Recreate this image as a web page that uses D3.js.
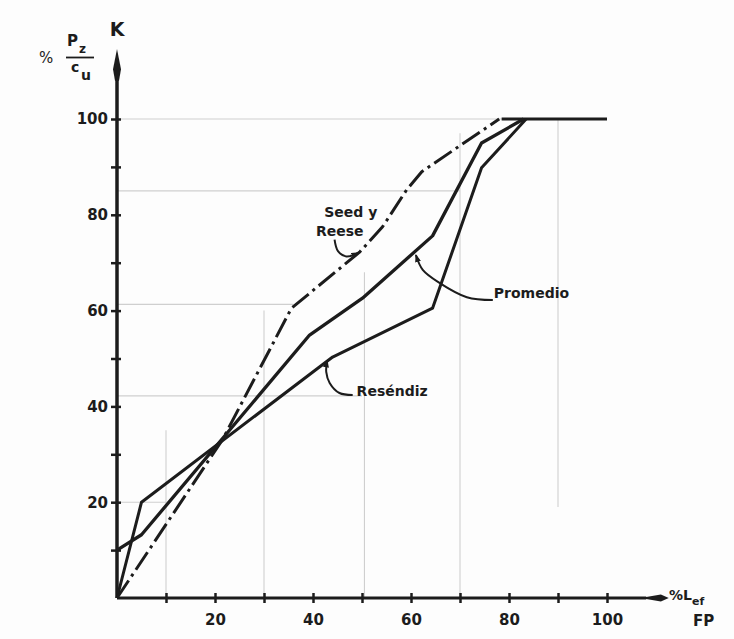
<!DOCTYPE html>
<html><head><meta charset="utf-8">
<script src="https://cdn.jsdelivr.net/npm/d3@7"></script>
<style>body{margin:0;background:#fdfdfd}svg{display:block}</style>
</head><body>
<svg id="c" width="734" height="639"></svg>
<script>
// ---------- data ----------
const xTickValues = [10,20,30,40,50,60,70,80,90,100];
const xLabelValues = [20,40,60,80,100];
const yTickValues = [10,20,30,40,50,60,70,80,90,100];
const yLabelValues = [20,40,60,80,100];

const seedX = [0, 21.5, 35.6, 49.5, 54.2, 59.1, 62.2, 78];
const seedY = [0, 33, 60.5, 72.2, 77.5, 85.2, 89, 100];

const resendizX = [0, 5, 44, 64.4, 74.4, 83.5];
const resendizY = [0, 20, 50.3, 60.5, 89.8, 100];

const promedioX = [0, 5, 39.3, 50.1, 64.4, 74.4, 83];
const promedioY = [10, 13.2, 54.9, 62.6, 75.6, 95, 100];

const plateauX = [78.5, 100];
const plateauY = [100, 100];

// leader lines (data units)
const promLeaderX = [76.7, 71.4, 65.8, 62.4, 61.0];
const promLeaderY = [62.2, 62.8, 65.8, 68.5, 71.6];
const resLeaderX = [48.1, 45.4, 43.4, 42.7, 42.9];
const resLeaderY = [42.4, 42.8, 44.9, 47.2, 49.6];
const seedLeaderX = [44.4, 45.1, 46.8, 49.3];
const seedLeaderY = [74.8, 72.4, 71.3, 72.1];

// faint print-through grid lines (data units): [value, from, to]
const faintH = [[100,0,100],[85,0,70],[61.3,0,36],[42.2,0,50],[20,0,10]];
const faintV = [[10,0,35],[30,0,60],[50.5,0,68],[70,0,97],[90,19,100]];

// ---------- drawing ----------
const svg = d3.select("#c");
const x = d3.scaleLinear().domain([0,100]).range([117,607]);
const y = d3.scaleLinear().domain([0,100]).range([598,119]);
const ink = "#1c1c1c";

const defs = svg.append("defs");
defs.append("marker").attr("id","ah").attr("viewBox","0 0 8 6")
  .attr("refX",7).attr("refY",3).attr("markerWidth",8).attr("markerHeight",6)
  .attr("markerUnits","userSpaceOnUse").attr("orient","auto")
  .append("path").attr("d","M0,0L8,3L0,6Z").attr("fill",ink);

// faint lines
const fg = svg.append("g").attr("stroke","#cfcfcf").attr("stroke-width",1.1);
fg.selectAll("line.h").data(faintH).join("line").attr("class","h")
  .attr("x1",d=>x(d[1])).attr("x2",d=>x(d[2])).attr("y1",d=>y(d[0])).attr("y2",d=>y(d[0]));
fg.selectAll("line.v").data(faintV).join("line").attr("class","v")
  .attr("x1",d=>x(d[0])).attr("x2",d=>x(d[0])).attr("y1",d=>y(d[1])).attr("y2",d=>y(d[2]));

// axes
const xAxis = d3.axisBottom(x).tickValues(xTickValues).tickSize(0).tickPadding(16)
  .tickFormat(d => xLabelValues.includes(d) ? d : "");
const gx = svg.append("g").attr("transform",`translate(0,${y(0)})`).call(xAxis);
const yAxis = d3.axisLeft(y).tickValues(yTickValues).tickSize(0).tickPadding(9)
  .tickFormat(d => yLabelValues.includes(d) ? d : "");
const gy = svg.append("g").attr("transform",`translate(${x(0)},0)`).call(yAxis);
[gx, gy].forEach(g => {
  g.select(".domain").remove();
  g.selectAll("text").attr("font-family","'DejaVu Sans',sans-serif").attr("font-weight","bold")
    .attr("font-size",15).attr("fill",ink);
});
gx.selectAll(".tick line").attr("y1",-5).attr("y2",5).attr("stroke",ink).attr("stroke-width",2.5);
gy.selectAll(".tick line").attr("x1",-6).attr("x2",4).attr("stroke",ink).attr("stroke-width",2.5);

// axis lines with arrows
svg.append("line").attr("x1",x(0)).attr("x2",x(108)).attr("y1",y(0)).attr("y2",y(0))
  .attr("stroke",ink).attr("stroke-width",3);
svg.append("path").attr("fill",ink)
  .attr("d",`M${x(106.8)},${y(0)}L${x(111)},${y(0)-3.5}L${x(112.6)},${y(0)}L${x(111)},${y(0)+3.5}Z`);
svg.append("line").attr("x1",x(0)).attr("x2",x(0)).attr("y1",y(0)).attr("y2",y(109))
  .attr("stroke",ink).attr("stroke-width",3.5);
svg.append("path").attr("fill",ink)
  .attr("d",`M${x(0)},${y(114.6)}L${x(0)+4},${y(110.4)}L${x(0)+2},${y(108)}L${x(0)-2},${y(108)}L${x(0)-4},${y(110.4)}Z`);

// curves
const line = d3.line().x(d=>x(d[0])).y(d=>y(d[1]));
const curves = svg.append("g").attr("fill","none").attr("stroke",ink)
  .attr("stroke-linejoin","round").attr("stroke-linecap","butt");
curves.append("path").attr("d",line(d3.zip(plateauX,plateauY))).attr("stroke-width",3);
curves.append("path").attr("d",line(d3.zip(resendizX,resendizY))).attr("stroke-width",3);
curves.append("path").attr("d",line(d3.zip(promedioX,promedioY))).attr("stroke-width",3.3);
curves.append("path").attr("d",line(d3.zip(seedX,seedY))).attr("stroke-width",3)
  .attr("stroke-dasharray","21,5,3,5");

// leaders
const lead = d3.line().x(d=>x(d[0])).y(d=>y(d[1])).curve(d3.curveCatmullRom);
const lg = svg.append("g").attr("fill","none").attr("stroke",ink).attr("stroke-width",2);
[[promLeaderX,promLeaderY],[resLeaderX,resLeaderY],[seedLeaderX,seedLeaderY]].forEach(p => {
  lg.append("path").attr("d",lead(d3.zip(p[0],p[1]))).attr("marker-end","url(#ah)");
});

// labels
const lab = svg.append("g").attr("font-family","'DejaVu Sans',sans-serif").attr("font-weight","bold")
  .attr("font-size",14).attr("fill",ink);
lab.append("text").attr("x",x(76.9)).attr("y",y(62.2)-2).text("Promedio");
lab.append("text").attr("x",x(48.9)).attr("y",y(42.4)+1).text("Reséndiz");
lab.append("text").attr("x",x(42.3)).attr("y",y(79.5)).text("Seed y");
lab.append("text").attr("x",x(40.6)).attr("y",y(75.5)).text("Reese");

// axis titles
const tt = svg.append("g").attr("font-family","'DejaVu Sans',sans-serif").attr("font-weight","bold").attr("fill",ink);
tt.append("text").attr("x",x(0)).attr("y",36).attr("text-anchor","middle").attr("font-size",19).text("K");
tt.append("text").attr("x",39).attr("y",63).attr("font-size",15).attr("font-weight","normal").text("%");
tt.append("text").attr("x",67).attr("y",46).attr("font-size",15).text("P");
tt.append("text").attr("x",79).attr("y",53).attr("font-size",12).text("z");
tt.append("line").attr("x1",66).attr("x2",94).attr("y1",57.5).attr("y2",57.5).attr("stroke",ink).attr("stroke-width",1.8);
tt.append("text").attr("x",71).attr("y",72).attr("font-size",14).text("c");
tt.append("text").attr("x",81).attr("y",80).attr("font-size",14).text("u");
const xl = tt.append("text").attr("x",669).attr("y",600).attr("font-size",14);
xl.append("tspan").text("%L");
xl.append("tspan").attr("font-size",11).attr("dy",5).text("ef");
tt.append("text").attr("x",693).attr("y",626).attr("font-size",15).text("FP");
</script>
</body></html>
